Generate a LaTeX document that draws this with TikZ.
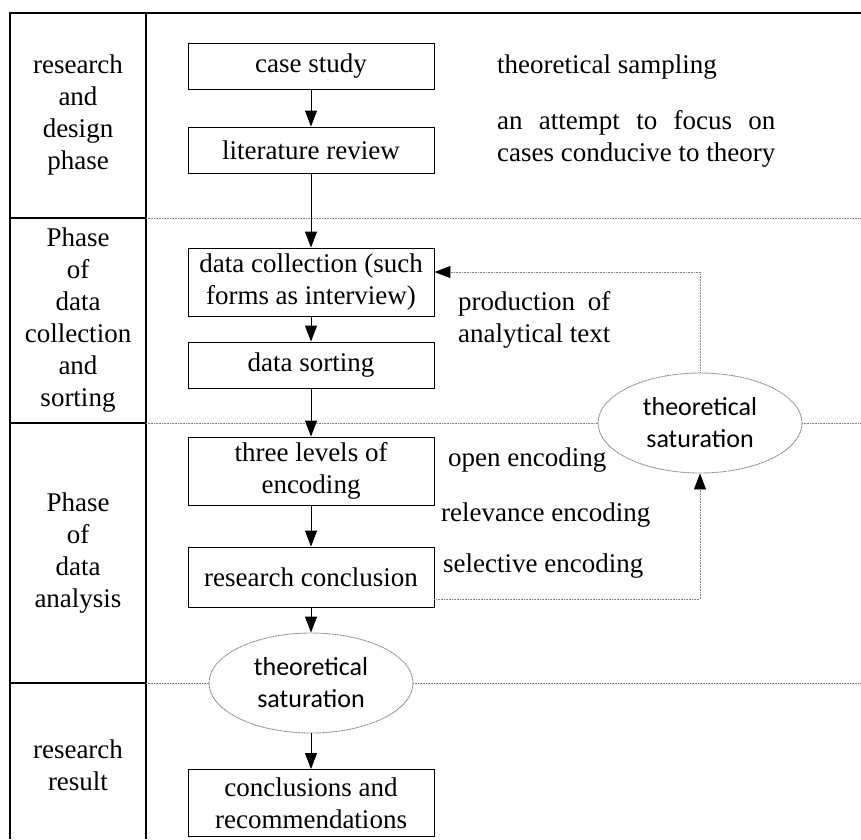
\documentclass[tikz,border=0pt]{standalone}
\usepackage{fontspec}
\setmainfont{Liberation Serif}
\newfontfamily\calibri{Carlito}
\usepackage{calc}
\usetikzlibrary{arrows.meta,shapes.geometric}

\newcommand\spreadto[2]{\makebox[\widthof{#1}][s]{#2}}

\tikzset{
  stage/.style={draw, rectangle, minimum width=246pt, minimum height=46pt,
    inner sep=0pt, align=center, line width=0.9pt},
  sat/.style={draw=gray, dash pattern=on 1pt off 0.6pt, line width=0.9pt,
    ellipse, fill=white, minimum width=204pt, minimum height=100pt,
    inner sep=0pt, align=center, font=\calibri\fontsize{26}{32}\selectfont},
  flow/.style={-{Triangle[length=16pt,width=12pt]}, line width=0.9pt},
  back/.style={gray, line width=0.9pt, dash pattern=on 1pt off 0.6pt,
    -{Triangle[length=16pt,width=12pt,color=black]}},
  rule/.style={gray, line width=0.9pt, dash pattern=on 1pt off 0.6pt},
  phase/.style={align=center},
  note/.style={anchor=west, align=left, inner sep=0pt},
}

\begin{document}
\begin{tikzpicture}[x=1pt, y=-1pt, font=\fontsize{27}{32}\selectfont]
  \useasboundingbox (0,0) rectangle (861,839);

  % frame and phase rows
  \draw[line width=1.2pt] (861,13) -- (10,13) -- (10,839);
  \draw[line width=1.2pt] (146,13) -- (146,839);
  \foreach \y in {218,423,683} {
    \draw[line width=1.2pt] (10,\y) -- (146,\y);
    \draw[rule] (146,\y) -- (861,\y);
  }

  \node[phase] (design) at (78,115) {research\\and\\design\\phase};
  \node[phase] (collect) at (78,320) {Phase\\of\\data\\collection\\and\\sorting};
  \node[phase] (analyse) at (78,553) {Phase\\of\\data\\analysis};
  \node[phase] (result) at (78,765) {research\\result};

  % main flow
  \node[stage] (case) at (311,66) {case study};
  \node[stage] (lit) at (311,150) {literature review};
  \node[stage, minimum height=68pt] (coll) at (311,282) {data collection (such\\forms as interview)};
  \node[stage] (sort) at (311,365) {data sorting};
  \node[stage, minimum height=68pt] (enc) at (311,471) {three levels of\\encoding};
  \node[stage, minimum height=60pt] (conc) at (311,577) {research conclusion};
  \node[sat] (satlow) at (311,683) {theoretical\\saturation};
  \node[stage, minimum height=67pt] (recom) at (311,803) {conclusions and\\recommendations};
  \node[sat] (satup) at (700,423) {theoretical\\saturation};

  \node[note] (sampling) at (497,67) {theoretical sampling};
  \node[note] (attempt) at (497,139) {\spreadto{cases conducive to theory}{an attempt to focus on}\\cases conducive to theory};
  \node[note] (text) at (458,320) {\spreadto{analytical text}{production of}\\analytical text};
  \node[note] (open) at (448,460) {open encoding};
  \node[note] (relev) at (441,515) {relevance encoding};
  \node[note] (select) at (443,566) {selective encoding};

  \draw[flow] (case) -- (lit);
  \draw[flow] (lit) -- (coll);
  \draw[flow] (coll) -- (sort);
  \draw[flow] (sort) -- (enc);
  \draw[flow] (enc) -- (conc);
  \draw[flow] (conc) -- (satlow);
  \draw[flow] (satlow) -- (recom);

  % feedback loop
  \draw[back] ([yshift=8pt]conc.south east) -| (satup.south);
  \draw[back] (satup.north) |- ([yshift=10pt]coll.east);
\end{tikzpicture}
\end{document}
